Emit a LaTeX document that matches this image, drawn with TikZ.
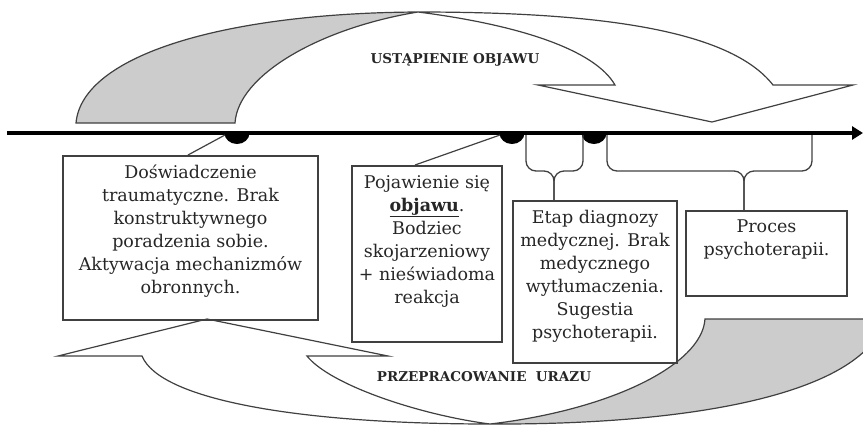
\documentclass[tikz,border=0pt]{standalone}
\usepackage{fontspec}
\setmainfont{DejaVu Serif}
\usetikzlibrary{arrows.meta,positioning,calc}
\definecolor{ribbongray}{gray}{0.8}
\definecolor{linegray}{gray}{0.25}
\tikzset{
	timeline/.style={line width=3.5pt, -{Triangle[length=11pt,width=13pt]}},
	ribbon/.style={draw=linegray, line width=1.2pt, fill=white, line join=miter},
	tail/.style={ribbon, fill=ribbongray},
	box/.style={draw=linegray, line width=1.6pt, anchor=north, inner sep=0pt},
	boxtext/.style={align=center, inner sep=0pt, text=black!85,
		font=\fontsize{17.5}{23}\selectfont},
	caption/.style={text=black!85, font=\bfseries\fontsize{13.5}{15}\selectfont},
	link/.style={draw=linegray, line width=1.2pt},
	bracket/.style={draw=linegray, line width=1.3pt, rounded corners=10pt},
	%	dot/.style={fill=black},
}

\begin{document}
\begin{tikzpicture}[x=1pt,y=-1pt]
\useasboundingbox (0,0) rectangle (863,424);
\clip (0,0) rectangle (863,424);

% upper ribbon
\draw[tail] (76,123) -- (235,123) .. controls (238,75) and (320,28) .. (418,12)
	.. controls (225,13) and (82,55) .. (76,123) -- cycle;
\draw[ribbon] (418,12) .. controls (600,12) and (730,30) .. (773,85) -- (853,85)
	-- (712,122) -- (538,85) -- (615,85) .. controls (595,50) and (520,25) .. (418,12) -- cycle;
\node[caption] (relief) at (455,60) {USTĄPIENIE OBJAWU};

% lower ribbon
\draw[tail] (705,319) -- (885,319) .. controls (865,392) and (700,425) .. (490,424)
	.. controls (610,410) and (702,365) .. (705,319) -- cycle;
\draw[ribbon] (490,424) .. controls (300,424) and (160,400) .. (142,356) -- (58,356)
	-- (207,319) -- (388,356) -- (307,356) .. controls (330,385) and (420,415) .. (490,424) -- cycle;
\node[caption] (working) at (484,377) {PRZEPRACOWANIE\ \ URAZU};

% time axis
\coordinate (start) at (7,133);
\coordinate (end) at (863,133);
\draw[timeline] (start) -- (end);

\coordinate (trauma) at (237,133);
\coordinate (symptom) at (512,133);
\coordinate (diagnosis) at (594,133);
\foreach \p in {trauma,symptom,diagnosis}
	\fill (\p) ++(-12.5,0) arc (180:0:12.5 and 11) -- cycle;

% boxes
\node[box, minimum width=255pt, minimum height=164pt] (traumabox) at (190.5,155) {};
\node[boxtext, below=10pt of traumabox.north] (traumatext)
	{Doświadczenie\\traumatyczne. Brak\\konstruktywnego\\poradzenia sobie.\\Aktywacja mechanizmów\\obronnych.};

\node[box, minimum width=150pt, minimum height=176pt] (symptombox) at (427,165) {};
\node[boxtext, below=10pt of symptombox.north] (symptomtext)
	{Pojawienie się\\\underline{\textbf{objawu}}.\\Bodziec\\skojarzeniowy\\+ nieświadoma\\reakcja};

\node[box, minimum width=164pt, minimum height=162pt] (diagbox) at (595,200) {};
\node[boxtext, below=10pt of diagbox.north] (diagtext)
	{Etap diagnozy\\medycznej. Brak\\medycznego\\wytłumaczenia.\\Sugestia\\psychoterapii.};

\node[box, minimum width=161pt, minimum height=85pt] (therapybox) at (766.5,210) {};
\node[boxtext, below=10pt of therapybox.north] (therapytext)
	{Proces\\psychoterapii.};

% links to the axis
\draw[link] ($(traumabox.north)+(-2.5,0)$) -- ($(trauma)+(-12,2)$);
\draw[link] ($(symptombox.north)+(-12,0)$) -- ($(symptom)+(-12,2)$);

% braces
\coordinate (dleft) at (526,135);
\coordinate (dright) at (583,135);
\coordinate (dmid) at (554,171);
\draw[bracket] (dleft) |- (dmid) -- (dmid |- diagbox.north);
\draw[bracket] (dright) |- (dmid) -- (dmid |- diagbox.north);

\coordinate (tleft) at (607,135);
\coordinate (tright) at (812,135);
\coordinate (tmid) at (744,171);
\draw[bracket] (tleft) |- (tmid) -- (tmid |- therapybox.north);
\draw[bracket] (tright) |- (tmid) -- (tmid |- therapybox.north);

\end{tikzpicture}
\end{document}
